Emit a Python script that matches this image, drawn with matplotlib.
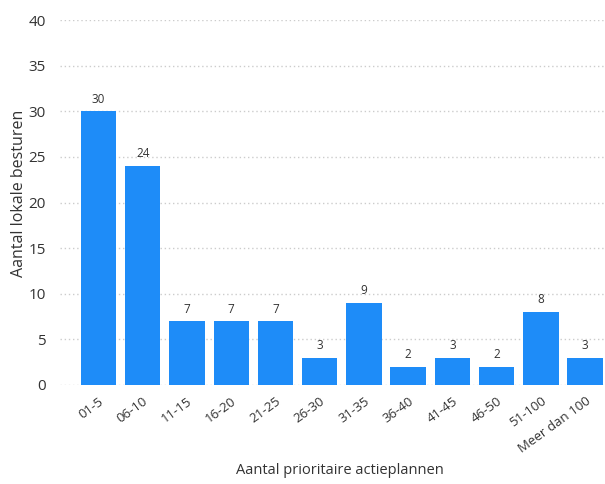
import matplotlib
matplotlib.use("Agg")
import matplotlib.pyplot as plt
import matplotlib.transforms as mtransforms

categories = ["01-5", "06-10", "11-15", "16-20", "21-25", "26-30", "31-35",
              "36-40", "41-45", "46-50", "51-100", "Meer dan 100"]
values = [30, 24, 7, 7, 7, 3, 9, 2, 3, 2, 8, 3]
yticks = [0, 5, 10, 15, 20, 25, 30, 35, 40]

plt.rcParams['font.family'] = ['Open Sans', 'DejaVu Sans']

fig = plt.figure(figsize=(6.05, 4.84), dpi=100)
ax = fig.add_axes([60/605, 1-385/484, 545/605, 365/484])

x = list(range(len(categories)))
bars = ax.bar(x, values, width=0.8, color="#1E8CF8", zorder=3)
for xi, v in zip(x, values):
    ax.annotate(str(v), (xi, v), xytext=(0, 4), textcoords="offset points",
                ha="center", va="bottom", fontsize=8.5, color="#333333")

ax.set_xlim(-0.87, 11.45)
ax.set_ylim(0, 40)
ax.set_yticks(yticks)
ax.set_xticks(x)
ax.set_xticklabels(categories, rotation=36, ha="right", rotation_mode="anchor",
                   fontsize=9.5, color="#333333")
offset = mtransforms.ScaledTranslation(-4/72, 0, fig.dpi_scale_trans)
for lbl in ax.get_xticklabels():
    lbl.set_transform(lbl.get_transform() + offset)
ax.tick_params(axis="y", labelsize=11, labelcolor="#333333", length=0, pad=10)
ax.tick_params(axis="x", length=0, pad=7)
ax.grid(axis="y", linestyle=(0, (1, 2)), color="#cccccc", linewidth=1, zorder=0)
for s in ax.spines.values():
    s.set_visible(False)

ax.set_ylabel("Aantal lokale besturen", fontsize=11.5, color="#333333")
ax.yaxis.set_label_coords((27-60)/545, (385-193)/365)
fig.text(340/605, 1-470/484, "Aantal prioritaire actieplannen", fontsize=10.5,
         color="#333333", ha="center", va="center")

fig.savefig("out.png", dpi=100)
